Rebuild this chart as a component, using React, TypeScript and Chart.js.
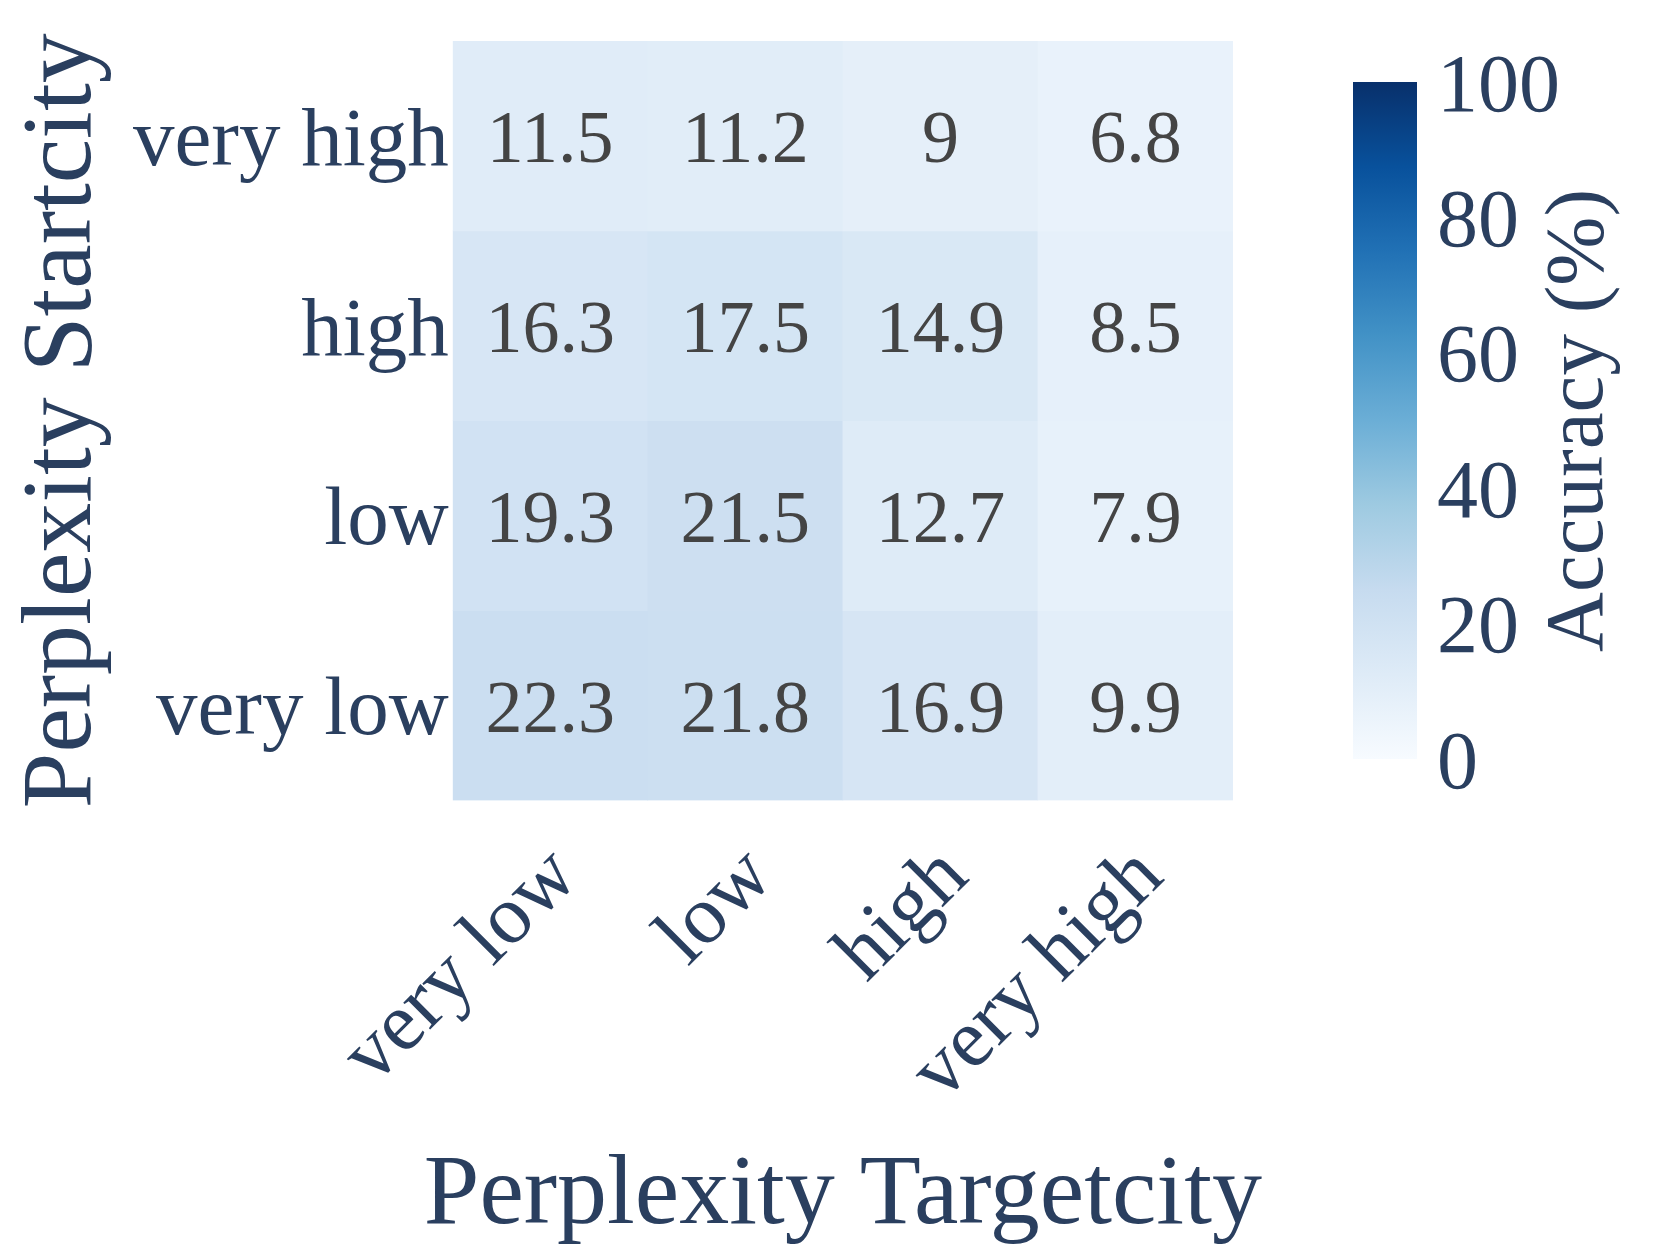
import React, { useEffect, useRef } from "react";
import { Chart, registerables } from "chart.js";

Chart.register(...registerables);

// ---- data ----
const X_LABELS = ["very low", "low", "high", "very high"]; // Perplexity Targetcity
const Y_LABELS = ["very high", "high", "low", "very low"]; // Perplexity Startcity, top to bottom
const ROW_VERY_HIGH = [11.5, 11.2, 9, 6.8];
const ROW_HIGH = [16.3, 17.5, 14.9, 8.5];
const ROW_LOW = [19.3, 21.5, 12.7, 7.9];
const ROW_VERY_LOW = [22.3, 21.8, 16.9, 9.9];
const ROWS = [ROW_VERY_HIGH, ROW_HIGH, ROW_LOW, ROW_VERY_LOW];
const COLORBAR_TICKS = [0, 20, 40, 60, 80, 100];
const X_TITLE = "Perplexity Targetcity";
const Y_TITLE = "Perplexity Startcity";
const CB_TITLE = "Accuracy (%)";
const ZMIN = 0;
const ZMAX = 100;

// Blues colorscale
const BLUES: [number, number[]][] = [
  [0, [247, 251, 255]],
  [0.125, [222, 235, 247]],
  [0.25, [198, 219, 239]],
  [0.375, [158, 202, 225]],
  [0.5, [107, 174, 214]],
  [0.625, [66, 146, 198]],
  [0.75, [33, 113, 181]],
  [0.875, [8, 81, 156]],
  [1, [8, 48, 107]],
];

function blues(t: number): string {
  t = Math.max(0, Math.min(1, t));
  for (let i = 1; i < BLUES.length; i++) {
    const [t1, c1] = BLUES[i];
    const [t0, c0] = BLUES[i - 1];
    if (t <= t1) {
      const f = (t - t0) / (t1 - t0);
      const c = c0.map((v, k) => Math.round(v + (c1[k] - v) * f));
      return `rgb(${c[0]},${c[1]},${c[2]})`;
    }
  }
  const c = BLUES[BLUES.length - 1][1];
  return `rgb(${c[0]},${c[1]},${c[2]})`;
}

const FONT = "'Liberation Serif', 'Times New Roman', serif";
const TEXT = "#2a3f5f";
const ANNOT = "#444444";

const W = 1661;
const H = 1245;

export default function App() {
  const mainRef = useRef<HTMLCanvasElement | null>(null);
  const cbRef = useRef<HTMLCanvasElement | null>(null);

  useEffect(() => {
    document.body.style.margin = "0";
    const nRows = ROWS.length;

    const datasets = ROWS.map((row, i) => {
      const r = nRows - 1 - i; // index from bottom
      return {
        label: Y_LABELS[i],
        data: row.map(() => [r, r + 1]),
        backgroundColor: row.map((v) => blues((v - ZMIN) / (ZMAX - ZMIN))),
        borderWidth: 0,
        barPercentage: 1,
        categoryPercentage: 1,
        grouped: false,
        values: row,
      } as any;
    });

    const annotPlugin = {
      id: "annot",
      afterDatasetsDraw(chart: any) {
        const ctx = chart.ctx;
        ctx.save();
        ctx.font = `74px ${FONT}`;
        ctx.fillStyle = ANNOT;
        ctx.textAlign = "center";
        ctx.textBaseline = "alphabetic";
        chart.data.datasets.forEach((ds: any, di: number) => {
          const meta = chart.getDatasetMeta(di);
          meta.data.forEach((el: any, j: number) => {
            const v = ds.values[j];
            ctx.fillText(String(v), el.x, (el.y + el.base) / 2 + 26.5);
          });
        });
        ctx.restore();
      },
    };

    const titlesPlugin = {
      id: "axisTitles",
      afterDraw(chart: any) {
        const ctx = chart.ctx;
        const a = chart.chartArea;
        ctx.save();
        ctx.font = `100px ${FONT}`;
        ctx.fillStyle = TEXT;
        ctx.textAlign = "center";
        ctx.textBaseline = "alphabetic";
        ctx.fillText(X_TITLE, (a.left + a.right) / 2, 1223);
        ctx.translate(90, (a.top + a.bottom) / 2);
        ctx.rotate(-Math.PI / 2);
        ctx.fillText(Y_TITLE, 0, 0);
        ctx.restore();
      },
    };

    const main = new Chart(mainRef.current as HTMLCanvasElement, {
      type: "bar",
      data: { labels: X_LABELS, datasets },
      options: {
        responsive: false,
        animation: false,
        layout: { padding: { left: 0, top: 41, right: W - 1233, bottom: 0 } },
        plugins: { legend: { display: false }, tooltip: { enabled: false } },
        scales: {
          x: {
            type: "category",
            offset: true,
            grid: { display: false, drawTicks: false },
            border: { display: false },
            ticks: {
              autoSkip: false,
              minRotation: 45,
              maxRotation: 45,
              padding: 28,
              labelOffset: 15,
              color: TEXT,
              font: { family: FONT, size: 83, lineHeight: 1.2 },
            },
            afterFit(scale: any) {
              scale.height = H - 800.5;
              scale.paddingLeft = 0;
              scale.paddingRight = 0;
            },
          },
          y: {
            type: "linear",
            min: 0,
            max: nRows,
            grid: { display: false, drawTicks: false },
            border: { display: false },
            afterBuildTicks(scale: any) {
              scale.ticks = Y_LABELS.map((_, i) => ({ value: nRows - 1 - i + 0.5 }));
            },
            ticks: {
              padding: 4,
              labelOffset: 7,
              color: TEXT,
              font: { family: FONT, size: 83, lineHeight: 1.2 },
              callback: (v: any) => Y_LABELS[nRows - 1 - Math.floor(Number(v))],
            },
            afterFit(scale: any) {
              scale.width = 452.7;
              scale.paddingTop = 0;
              scale.paddingBottom = 0;
            },
          },
        },
      },
      plugins: [annotPlugin, titlesPlugin],
    } as any);

    const cbTitlePlugin = {
      id: "cbTitle",
      afterDraw(chart: any) {
        const ctx = chart.ctx;
        const area = chart.chartArea;
        ctx.save();
        ctx.translate(1602, (area.top + area.bottom) / 2);
        ctx.rotate(-Math.PI / 2);
        ctx.font = `83px ${FONT}`;
        ctx.fillStyle = TEXT;
        ctx.textAlign = "center";
        ctx.textBaseline = "alphabetic";
        ctx.fillText(CB_TITLE, 0, 0);
        ctx.restore();
      },
    };

    const cb = new Chart(cbRef.current as HTMLCanvasElement, {
      type: "bar",
      data: {
        labels: [""],
        datasets: [
          {
            data: [[ZMIN, ZMAX]],
            borderWidth: 0,
            barPercentage: 1,
            categoryPercentage: 1,
            backgroundColor: (context: any) => {
              const chart = context.chart;
              const ys = chart.scales && chart.scales.y;
              if (!ys) return blues(0.5);
              const y0 = ys.getPixelForValue(ZMIN);
              const y1 = ys.getPixelForValue(ZMAX);
              if (!isFinite(y0) || !isFinite(y1) || y0 === y1) return blues(0.5);
              const g = chart.ctx.createLinearGradient(0, y0, 0, y1);
              BLUES.forEach(([t, c]) => g.addColorStop(t, `rgb(${c[0]},${c[1]},${c[2]})`));
              return g;
            },
          } as any,
        ],
      },
      options: {
        responsive: false,
        animation: false,
        layout: { padding: { left: 1353, top: 82, right: 0, bottom: H - 759 } },
        plugins: { legend: { display: false }, tooltip: { enabled: false } },
        scales: {
          x: { display: false, offset: true },
          y: {
            position: "right",
            min: ZMIN,
            max: ZMAX,
            grid: { display: false, drawTicks: false },
            border: { display: false },
            afterBuildTicks(scale: any) {
              scale.ticks = COLORBAR_TICKS.map((v) => ({ value: v }));
            },
            ticks: {
              padding: 20,
              labelOffset: 7,
              color: TEXT,
              font: { family: FONT, size: 82, lineHeight: 1.2 },
            },
            afterFit(scale: any) {
              scale.width = W - 1417;
              scale.paddingTop = 0;
              scale.paddingBottom = 0;
            },
          },
        },
      },
      plugins: [cbTitlePlugin],
    } as any);

    return () => {
      main.destroy();
      cb.destroy();
    };
  }, []);

  return (
    <div style={{ position: "relative", width: W, height: H, overflow: "hidden", background: "#fff" }}>
      <canvas ref={mainRef} width={W} height={H} style={{ position: "absolute", left: 0, top: 0 }} />
      <canvas ref={cbRef} width={W} height={H} style={{ position: "absolute", left: 0, top: 0 }} />
    </div>
  );
}
